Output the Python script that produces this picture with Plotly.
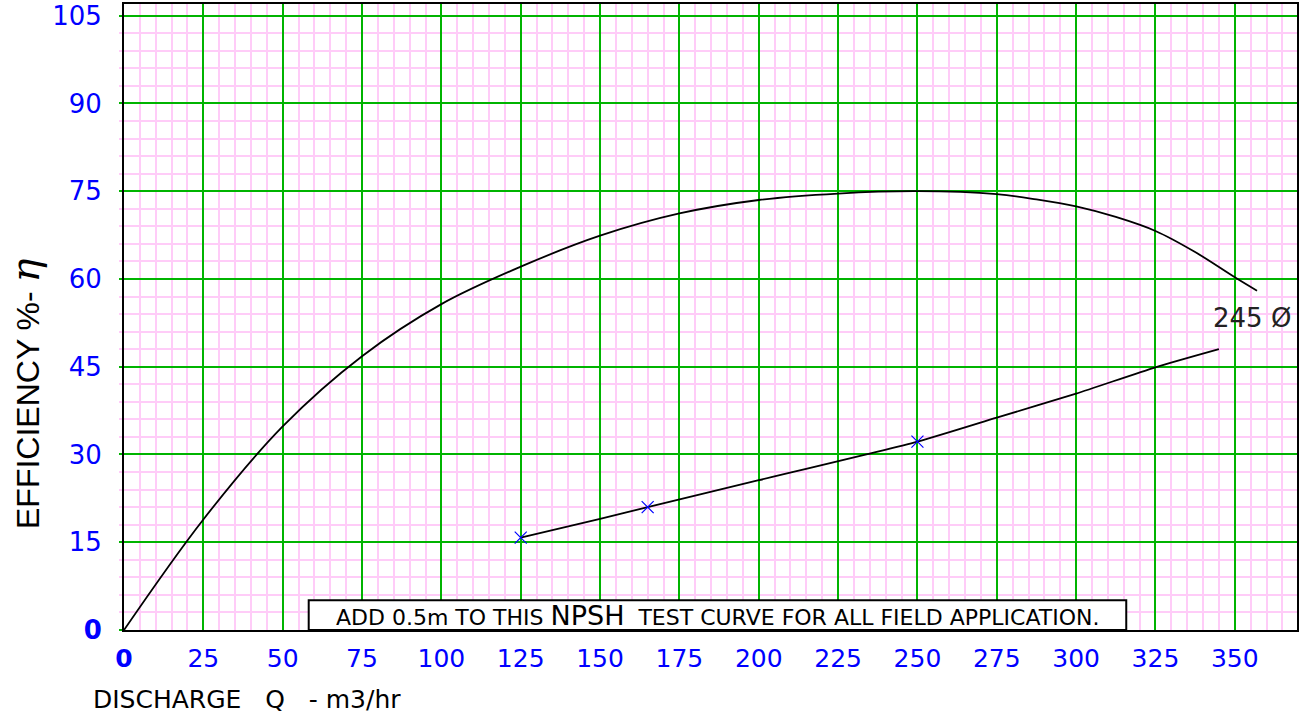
import plotly.graph_objects as go

# ---- data ----
eff_q = [0, 25, 50, 75, 100, 125, 150, 175, 200, 225, 250, 275, 287.5, 300, 312.5, 325, 337.5, 350, 357]
eff_v = [0, 18.9, 34.8, 46.8, 55.7, 62.1, 67.4, 71.2, 73.5, 74.6, 75.0, 74.5, 73.6, 72.4, 70.6, 68.2, 64.6, 60.3, 58.0]

npsh_q = [125, 150, 165, 200, 250, 275, 300, 325, 345]
npsh_v = [15.8, 19.0, 21.0, 25.6, 32.2, 36.3, 40.4, 44.9, 48.0]

test_q = [125, 165, 250]
test_v = [15.8, 21.0, 32.2]

x_ticks = [0, 25, 50, 75, 100, 125, 150, 175, 200, 225, 250, 275, 300, 325, 350]
x_labels = ["<b>0</b>"] + [str(v) for v in x_ticks[1:]]
y_ticks = [0, 15, 30, 45, 60, 75, 90, 105]
y_labels = ["<b>0</b>"] + [str(v) for v in y_ticks[1:]]

curve_label = "245 Ø"
curve_label_pos = (355.5, 53.4)
note_box = (58.2, 315.8, 0, 5.1)

GREEN = "#00b400"
PINK = "#ffccf8"
BLUE = "#0000ff"
FONT = "DejaVu Sans, Verdana, sans-serif"
FONT2 = "Liberation Sans, Arial, sans-serif"

fig = go.Figure()
fig.add_trace(go.Scatter(x=eff_q, y=eff_v, mode="lines",
                         line=dict(color="black", width=1.8, shape="spline", smoothing=1.0),
                         hoverinfo="skip", showlegend=False))
fig.add_trace(go.Scatter(x=npsh_q, y=npsh_v, mode="lines",
                         line=dict(color="black", width=1.8, shape="spline", smoothing=0.6),
                         hoverinfo="skip", showlegend=False))
fig.add_trace(go.Scatter(x=test_q, y=test_v, mode="markers",
                         marker=dict(symbol="x-thin", size=12, line=dict(color=BLUE, width=1.2)),
                         hoverinfo="skip", showlegend=False))

fig.update_layout(
    width=1301, height=716,
    margin=dict(l=124, r=4, t=4, b=86, autoexpand=False),
    paper_bgcolor="white", plot_bgcolor="white",
    font=dict(family=FONT, color="black"),
    xaxis=dict(range=[0, 369.6], tickvals=x_ticks, ticktext=x_labels, automargin=False,
               tickfont=dict(size=25, color=BLUE, family=FONT),
               showgrid=True, gridcolor=GREEN, gridwidth=2,
               minor=dict(dtick=5, tick0=0, showgrid=True, gridcolor=PINK, gridwidth=2),
               showline=True, linecolor="black", linewidth=2, mirror=True,
               zeroline=False, ticks="", ticklabelstandoff=5),
    yaxis=dict(range=[0, 107], tickvals=y_ticks, ticktext=y_labels, automargin=False,
               tickfont=dict(size=26, color=BLUE, family=FONT),
               showgrid=True, gridcolor=GREEN, gridwidth=2,
               minor=dict(dtick=3, tick0=0, showgrid=True, gridcolor=PINK, gridwidth=2,
                          ticks="outside", ticklen=3, tickcolor=PINK, tickwidth=2),
               showline=True, linecolor="black", linewidth=2, mirror=True,
               zeroline=False, ticks="outside", ticklen=3, tickcolor=GREEN, tickwidth=2,
               ticklabelstandoff=12),
)

x0, x1, y0, y1 = note_box
fig.add_shape(type="rect", xref="x", yref="y", x0=x0, x1=x1, y0=y0, y1=y1,
              fillcolor="white", line=dict(color="black", width=2), layer="above")

fig.add_annotation(
    x=(x0 + x1) / 2, y=(y0 + y1) / 2 - 0.1, xref="x", yref="y", showarrow=False,
    text="ADD 0.5m TO THIS <span style='font-size:27px'>NPSH</span>  TEST CURVE FOR ALL FIELD APPLICATION.",
    font=dict(family=FONT, size=22, color="black"))

fig.add_annotation(x=curve_label_pos[0], y=curve_label_pos[1], xref="x", yref="y",
                   showarrow=False, text=curve_label,
                   font=dict(family=FONT, size=26, color="#222222"))

# x-axis title, left aligned under the axis, box kept inside the page
fig.add_annotation(x=-0.0281, y=-86 / 626, xref="paper", yref="paper",
                   xanchor="left", yanchor="bottom", showarrow=False,
                   text="DISCHARGE   Q   - m3/hr",
                   font=dict(family=FONT, size=25, color="black"))

# y-axis title, rotated
fig.add_annotation(x=-124 / 1173, y=0.377, xref="paper", yref="paper",
                   xanchor="left", yanchor="middle", showarrow=False, textangle=-90,
                   text="EFFICIENCY %- <i><span style='font-size:40px; font-family:DejaVu Serif'>η</span></i>",
                   font=dict(family=FONT2, size=32, color="black"))

fig.write_html("out.html", config={"displayModeBar": False},
               post_script="document.body.style.margin='0px';")
